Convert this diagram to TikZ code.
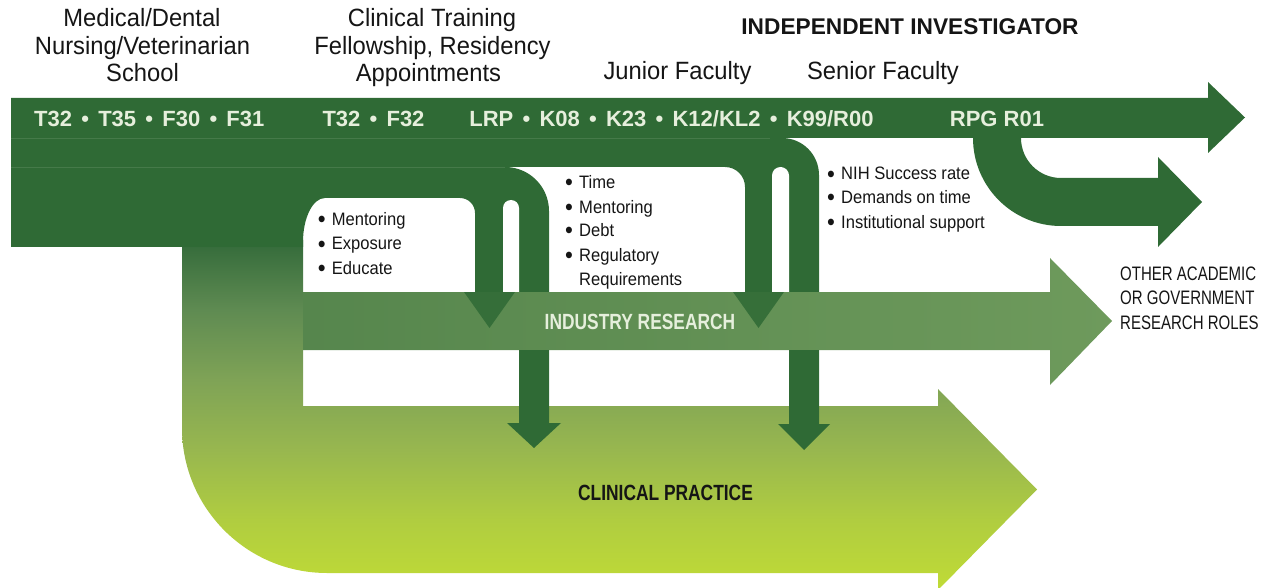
\documentclass[tikz,border=0pt]{standalone}
\usepackage{fontspec}
\setmainfont{Liberation Sans}
\newfontfamily\toplabfont[FakeStretch=0.95]{Liberation Sans}
\newfontfamily\bulfont[FakeStretch=0.92]{Liberation Sans}
\newfontfamily\othfont[FakeStretch=0.77]{Liberation Sans}
\newfontfamily\bandfont{Liberation Sans}
\newfontfamily\condbold[FakeStretch=0.79]{Liberation Sans}
\definecolor{dkgreen}{HTML}{2F6A35}
\definecolor{bandtext}{HTML}{E6EFDC}
\definecolor{inkblack}{HTML}{151515}
\definecolor{indL}{HTML}{56864D}
\definecolor{indR}{HTML}{6E9A5C}
\definecolor{linegreen}{HTML}{457A49}
\definecolor{cpA}{HTML}{C0DB36}
\definecolor{cpB}{HTML}{B0CD40}
\definecolor{cpC}{HTML}{98B74F}
\definecolor{cpD}{HTML}{7FA356}
\definecolor{cpE}{HTML}{5F8B52}
\definecolor{cpF}{HTML}{336A3A}
\pgfdeclareverticalshading{clinshade}{100bp}{color(0bp)=(cpA); color(25bp)=(cpA); color(35bp)=(cpB); color(45bp)=(cpC); color(55bp)=(cpD); color(65bp)=(cpE); color(75bp)=(cpF); color(100bp)=(cpF)}
\newcommand\bsep{\hspace{0.42em}\textbullet\hspace{0.42em}}
\newcommand\bitem[1]{\makebox[14pt][l]{\raisebox{-2.3pt}{\scalebox{1.35}{\textbullet}}}#1}
\tikzset{
  toplab/.style={inner sep=0pt, anchor=base, text=inkblack, font=\toplabfont\fontsize{25}{28}\selectfont},
  headlab/.style={inner sep=0pt, anchor=base, text=inkblack, font=\bandfont\bfseries\fontsize{22.7}{26}\selectfont},
  bandlab/.style={inner sep=0pt, anchor=base, text=bandtext, font=\bandfont\bfseries\fontsize{22}{26}\selectfont},
  bul/.style={inner sep=0pt, anchor=base west, text=inkblack, font=\bulfont\fontsize{18}{22}\selectfont},
  oth/.style={inner sep=0pt, anchor=base west, text=inkblack, font=\othfont\fontsize{19.5}{24}\selectfont},
  flowlab/.style={inner sep=0pt, anchor=base, font=\condbold\bfseries\fontsize{22}{26}\selectfont},
  flow/.style={fill=dkgreen, draw=none},
  seam/.style={draw=linegreen, line width=0.6pt},
}
\begin{document}
\begin{tikzpicture}[x=1pt,y=-1pt]
\useasboundingbox (0,0) rectangle (1264,588);
% lower gradient flow (vertical band + clinical practice arrow)
\path[shading=clinshade] (182,240) -- (182,428) arc[start angle=180,end angle=90,radius=145] -- (938,573) -- (938,590) -- (1037,489.5) -- (938,389) -- (938,406) -- (303,406) -- (303,240) -- cycle;
% upper dark flow
\path[flow] (11,98) -- (1208,98) -- (1208,82) -- (1245,117.5) -- (1208,153) -- (1208,138) -- (782,138) arc[start angle=-90,end angle=0,radius=37] -- (819,295) -- (745,295) -- (745,187) arc[start angle=0,end angle=-90,radius=20] -- (505,167) arc[start angle=-90,end angle=0,radius=44] -- (549,295) -- (475,295) -- (475,213) arc[start angle=0,end angle=-90,radius=15] -- (325,198) arc[start angle=-90,end angle=-180,x radius=22,y radius=44] -- (303,247) -- (11,247) -- cycle;
\path[seam] (11,138) -- (770,138);
\path[seam] (11,167.5) -- (505,167.5);
% gaps between strands
\fill[white] (503,296) -- (503,208) arc[start angle=180,end angle=360,radius=8] -- (519,296) -- cycle;
\fill[white] (772,296) -- (772,175.5) arc[start angle=180,end angle=360,radius=8.5] -- (789,296) -- cycle;
% RPG R01 branch
\path[flow] (973,136) -- (973,138) arc[start angle=180,end angle=90,radius=88] -- (1158,226) -- (1158,247) -- (1202,202) -- (1158,157) -- (1158,178) -- (1061,178) arc[start angle=90,end angle=180,radius=40] -- (1021,136) -- cycle;
% industry research arrow
\path[left color=indL, right color=indR] (303,292) -- (1050,292) -- (1050,258) -- (1112,321) -- (1050,385) -- (1050,350) -- (303,350) -- cycle;
% arrow heads into industry research
\path[flow, opacity=0.85] (464,292) -- (515,292) -- (489.5,328) -- cycle;
\path[flow, opacity=0.85] (733,292) -- (784,292) -- (758.5,328) -- cycle;
% arrows into clinical practice
\path[flow] (519,350) -- (549,350) -- (549,423) -- (561,423) -- (534,448) -- (507,423) -- (519,423) -- cycle;
\path[flow] (789,350) -- (819,350) -- (819,424) -- (830,424) -- (804,450) -- (778,424) -- (789,424) -- cycle;
% top labels
\node[toplab] (med1) at (142,27) {Medical/Dental};
\node[toplab] (med2) at (142.5,55) {Nursing/Veterinarian};
\node[toplab] (med3) at (142.5,82) {School};
\node[toplab] (cli1) at (432,27) {Clinical Training};
\node[toplab] (cli2) at (432.5,55) {Fellowship, Residency};
\node[toplab] (cli3) at (428.5,82) {Appointments};
\node[headlab] (indep) at (910,35) {INDEPENDENT INVESTIGATOR};
\node[toplab] (junior) at (677.5,80) {Junior Faculty};
\node[toplab] (senior) at (883,80) {Senior Faculty};
% band labels
\node[bandlab] (band1) at (149.3,127) {T32\bsep T35\bsep F30\bsep F31};
\node[bandlab] (band2) at (373.5,127) {T32\bsep F32};
\node[bandlab] (band3) at (671.5,127) {LRP\bsep K08\bsep K23\bsep K12/KL2\bsep K99/R00};
\node[bandlab] (band4) at (997,127) {RPG R01};
% bullet lists
\node[bul] (la1) at (317.7,225.7) {\bitem{Mentoring}};
\node[bul] (la2) at (317.7,250) {\bitem{Exposure}};
\node[bul] (la3) at (317.7,274.3) {\bitem{Educate}};
\node[bul] (lb1) at (565,188.3) {\bitem{Time}};
\node[bul] (lb2) at (565,213.3) {\bitem{Mentoring}};
\node[bul] (lb3) at (565,236.7) {\bitem{Debt}};
\node[bul] (lb4) at (565,261.7) {\bitem{Regulatory}};
\node[bul] (lb5) at (579,285) {Requirements};
\node[bul] (lc1) at (827,180) {\bitem{NIH Success rate}};
\node[bul] (lc2) at (827,203.3) {\bitem{Demands on time}};
\node[bul] (lc3) at (827,228.3) {\bitem{Institutional support}};
% outcome labels
\node[oth] (oth1) at (1120,280.7) {OTHER ACADEMIC};
\node[oth] (oth2) at (1120,305) {OR GOVERNMENT};
\node[oth] (oth3) at (1120,329.3) {RESEARCH ROLES};
\node[flowlab, text=bandtext] (indres) at (640,329.3) {INDUSTRY RESEARCH};
\node[flowlab, text=inkblack] (clinpr) at (665.5,500) {CLINICAL PRACTICE};
\end{tikzpicture}
\end{document}
